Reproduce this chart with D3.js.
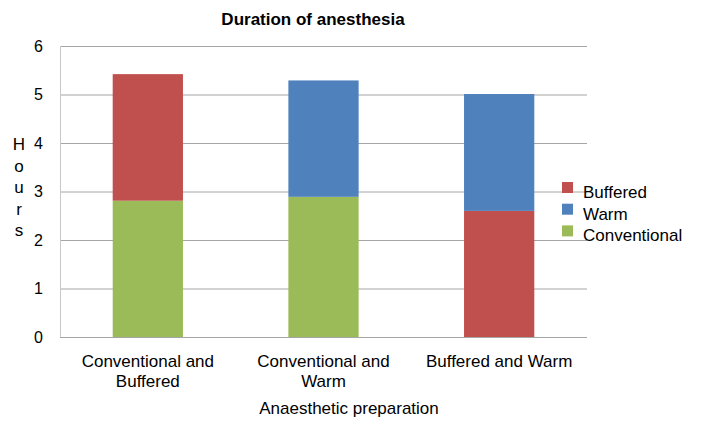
<!DOCTYPE html>
<html>
<head>
<meta charset="utf-8">
<script src="https://cdn.jsdelivr.net/npm/d3@7"></script>
<style>
  body { margin: 0; background: #fff; }
  text { font-family: "Liberation Sans", Arial, sans-serif; fill: #000; }
</style>
</head>
<body>
<svg id="chart" width="713" height="429"></svg>
<script>
// categories and series (hours)
const categories = [["Conventional and", "Buffered"], ["Conventional and", "Warm"], ["Buffered and Warm"]];
const catKeys = ["Conventional and Buffered", "Conventional and Warm", "Buffered and Warm"];
const conventional = [2.81, 2.89, 0];
const buffered = [2.61, 0, 2.60];
const warm = [0, 2.40, 2.41];
const yTicks = [0, 1, 2, 3, 4, 5, 6];
const seriesNames = ["Conventional", "Buffered", "Warm"];
const legendOrder = ["Buffered", "Warm", "Conventional"];
const colors = { Conventional: "#9bbb59", Buffered: "#c0504d", Warm: "#4f81bd" };

const rows = catKeys.map((c, i) => ({
  cat: c, Conventional: conventional[i], Buffered: buffered[i], Warm: warm[i]
}));

const svg = d3.select("#chart");
const margin = { top: 46, right: 126, bottom: 92, left: 60 };
const width = 713, height = 429;
const font = "Liberation Sans, Arial, sans-serif";

const x = d3.scaleBand()
  .domain(catKeys)
  .range([margin.left, width - margin.right])
  .paddingInner(0.6)
  .paddingOuter(0.3);

const y = d3.scaleLinear()
  .domain([0, 6])
  .range([height - margin.bottom, margin.top]);

// gridlines
svg.append("g")
  .selectAll("line")
  .data(yTicks)
  .enter().append("line")
  .attr("x1", margin.left)
  .attr("x2", width - margin.right)
  .attr("y1", d => y(d) + 0.5)
  .attr("y2", d => y(d) + 0.5)
  .attr("stroke", "#a6a6a6")
  .attr("stroke-width", 1);

// left axis line
svg.append("line")
  .attr("x1", margin.left + 0.5).attr("x2", margin.left + 0.5)
  .attr("y1", y(6)).attr("y2", y(0))
  .attr("stroke", "#c8c8c8");

// y tick labels
const yAxis = svg.append("g")
  .attr("transform", `translate(${margin.left},0)`)
  .call(d3.axisLeft(y).tickValues(yTicks).tickFormat(d3.format("d")).tickSize(0).tickPadding(17));
yAxis.select(".domain").remove();
yAxis.selectAll("text").style("font-size", "16px").style("font-family", font);

// stacked bars
const stack = d3.stack().keys(seriesNames);
const layers = stack(rows);

svg.append("g")
  .selectAll("g")
  .data(layers)
  .enter().append("g")
  .attr("fill", d => colors[d.key])
  .selectAll("rect")
  .data(d => d)
  .enter().append("rect")
  .attr("x", d => x(d.data.cat))
  .attr("y", d => y(d[1]))
  .attr("width", x.bandwidth())
  .attr("height", d => y(d[0]) - y(d[1]));

// x tick labels
const xAxis = svg.append("g")
  .attr("transform", `translate(0,${height - margin.bottom})`)
  .call(d3.axisBottom(x).tickSize(0).tickFormat(""));
xAxis.select(".domain").remove();
xAxis.selectAll(".tick").each(function (d, i) {
  const t = d3.select(this).append("text")
    .attr("text-anchor", "middle")
    .style("font-size", "17px")
    .style("font-family", font)
    .attr("fill", "#000");
  categories[i].forEach((line, j) => {
    t.append("tspan").attr("x", 0).attr("y", 30 + j * 20).text(line);
  });
});

// title
svg.append("text")
  .attr("x", 313).attr("y", 25)
  .attr("text-anchor", "middle")
  .style("font-size", "17px")
  .style("font-weight", "bold")
  .text("Duration of anesthesia");

// x axis title
svg.append("text")
  .attr("x", 349).attr("y", 414)
  .attr("text-anchor", "middle")
  .style("font-size", "17px")
  .text("Anaesthetic preparation");

// y axis title, stacked letters
"Hours".split("").forEach((ch, i) => {
  svg.append("text")
    .attr("x", 19).attr("y", 150 + i * 21.5)
    .attr("text-anchor", "middle")
    .style("font-size", "17px")
    .text(ch);
});

// legend
const legend = svg.append("g").attr("transform", "translate(562,182)");
legendOrder.forEach((name, i) => {
  const g = legend.append("g").attr("transform", `translate(0,${i * 21.7})`);
  g.append("rect").attr("width", 11).attr("height", 11).attr("fill", colors[name]);
  g.append("text").attr("x", 21).attr("y", 16).style("font-size", "17px").text(name);
});
</script>
</body>
</html>
